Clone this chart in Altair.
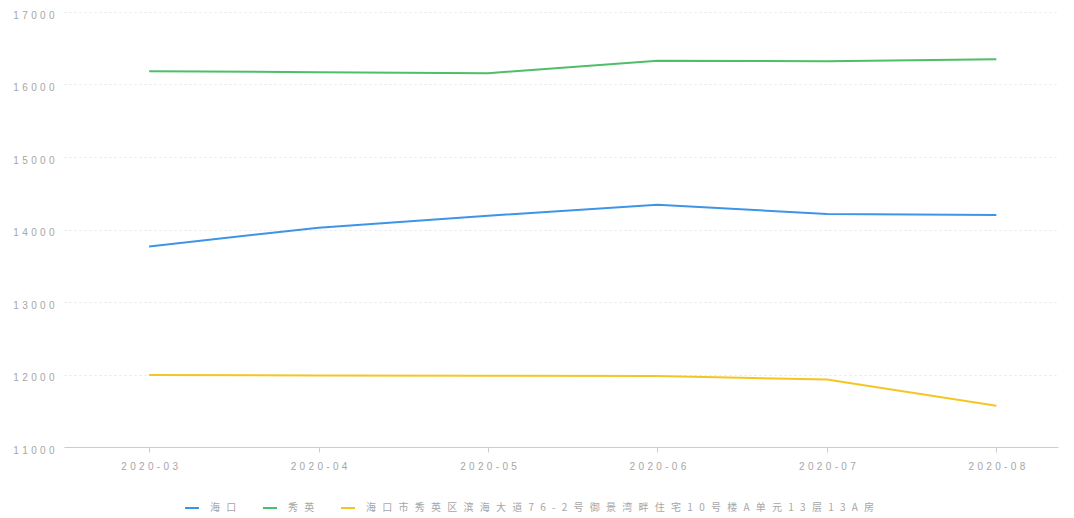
import altair as alt
import pandas as pd

months = ["2020-03", "2020-04", "2020-05", "2020-06", "2020-07", "2020-08"]
series_names = ["海口", "秀英", "海口市秀英区滨海大道76-2号御景湾畔住宅10号楼A单元13层13A房"]
haikou = [13767, 14025, 14190, 14343, 14214, 14200]
xiuying = [16184, 16170, 16156, 16327, 16322, 16349]
address = [11994, 11985, 11982, 11980, 11930, 11570]
y_ticks = [11000, 12000, 13000, 14000, 15000, 16000, 17000]
colors = ["#3d95e7", "#4dbf68", "#f5c623"]

rows = []
for name, vals in zip(series_names, [haikou, xiuying, address]):
    for m, v in zip(months, vals):
        rows.append({"month": m, "series": name, "value": v})
df = pd.DataFrame(rows)

chart = alt.Chart(df).mark_line(strokeWidth=2).encode(
    x=alt.X("month:O",
            scale=alt.Scale(type="point", padding=0.433, align=0.58),
            axis=alt.Axis(title=None, labelAngle=0, domainColor="#cccccc", tickColor="#cccccc",
                          tickSize=5, labelPadding=9, labelColor="#a6a6a6", labelFontSize=10,
                          labelFont="Liberation Sans",
                          labelExpr="join(split(datum.label, ''), '\u2004')", grid=False)),
    y=alt.Y("value:Q",
            scale=alt.Scale(domain=[11000, 17000], nice=False, zero=False),
            axis=alt.Axis(title=None, values=y_ticks, grid=True, gridDash=[2, 3], gridColor="#e6e6e6",
                          domain=False, ticks=False, labelPadding=10, labelColor="#a6a6a6",
                          labelFontSize=10, labelFont="Liberation Sans", labelOffset=3,
                          labelExpr="join(split('' + datum.value, ''), '\u2004')")),
    color=alt.Color("series:N",
                    scale=alt.Scale(domain=series_names, range=colors),
                    legend=alt.Legend(title=None, orient="none", legendX=120, legendY=488,
                                      direction="horizontal", symbolType="stroke", symbolSize=196,
                                      symbolStrokeWidth=2, labelColor="#a6a6a6", labelFontSize=10,
                                      labelFont="Noto Sans CJK SC", labelOffset=10, columnPadding=22,
                                      labelLimit=1000,
                                      labelExpr="join(split(datum.label, ''), '\u2002\u200a\u200a')")),
).properties(
    width=994, height=435,
    autosize=alt.AutoSizeParams(type="none"),
    padding={"left": 56, "top": 4, "right": 8, "bottom": 68},
).configure_view(stroke=None)

chart.save("out.html", embed_options={"renderer": "svg", "actions": False})
